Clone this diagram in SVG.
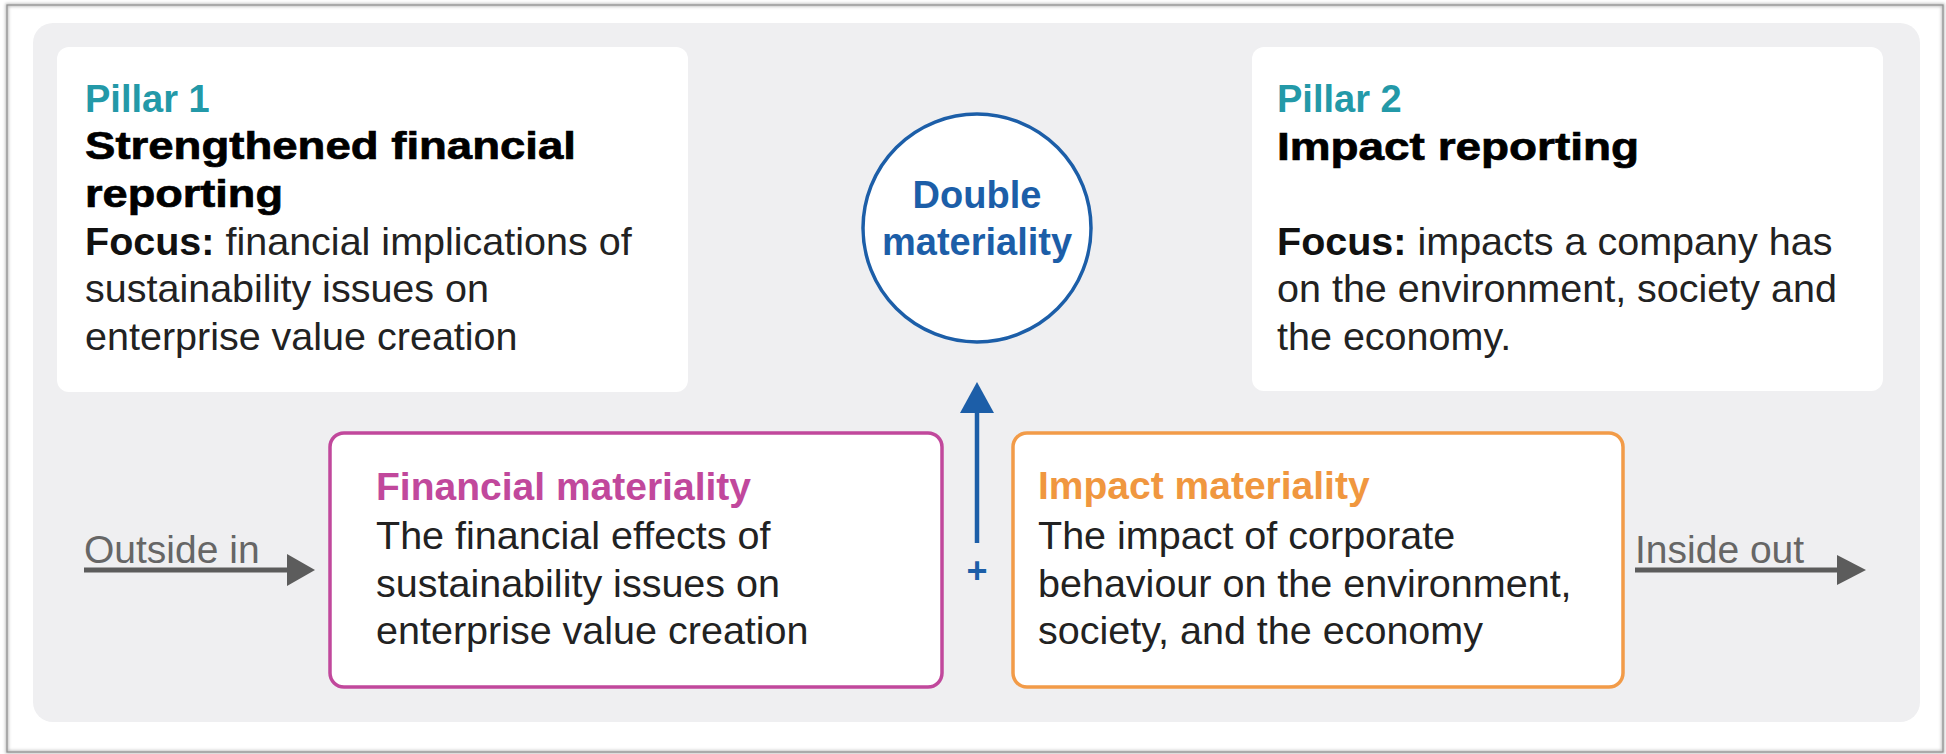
<svg xmlns="http://www.w3.org/2000/svg" width="1946" height="754" viewBox="0 0 1946 754">
  <defs>
    <style>
      text { font-family: "Liberation Sans", Arial, sans-serif; }
      .body { font-size: 39.5px; fill: #222; }
      .b { font-weight: bold; fill: #111; }
      .hdr { font-size: 39px; font-weight: bold; fill: #000; stroke: #000; stroke-width: 0.7; }
      .pillar { font-size: 38px; font-weight: bold; fill: #2399a8; }
      .card { fill: #ffffff; }
      .dir { font-size: 39px; fill: #666; }
    </style>
    <filter id="sh" x="-5%" y="-5%" width="110%" height="110%">
      <feGaussianBlur stdDeviation="1.5"/>
    </filter>
  </defs>

  <rect x="0" y="0" width="1946" height="754" fill="#ffffff"/>
  <!-- outer frame -->
  <rect x="7" y="5" width="1936" height="747" fill="none" stroke="#b8b8b8" stroke-width="3" filter="url(#sh)"/>
  <rect x="7" y="5" width="1936" height="747" fill="none" stroke="#8f8f8f" stroke-width="1.2"/>

  <!-- gray panel -->
  <rect id="panel" x="33" y="23" width="1887" height="699" rx="20" fill="#efeff1"/>

  <g id="pillar1">
    <rect class="card" x="57" y="47" width="631" height="345" rx="12"/>
    <text class="pillar" x="85" y="112">Pillar 1</text>
    <text class="hdr" x="85" y="159" textLength="491" lengthAdjust="spacingAndGlyphs">Strengthened financial</text>
    <text class="hdr" x="85" y="207" textLength="198" lengthAdjust="spacingAndGlyphs">reporting</text>
    <text class="body" x="85" y="255"><tspan class="b">Focus:</tspan> financial implications of</text>
    <text class="body" x="85" y="302">sustainability issues on</text>
    <text class="body" x="85" y="350">enterprise value creation</text>
  </g>

  <g id="pillar2">
    <rect class="card" x="1252" y="47" width="631" height="344" rx="12"/>
    <text class="pillar" x="1277" y="112">Pillar 2</text>
    <text class="hdr" x="1277" y="160" textLength="362" lengthAdjust="spacingAndGlyphs">Impact reporting</text>
    <text class="body" x="1277" y="255"><tspan class="b">Focus:</tspan> impacts a company has</text>
    <text class="body" x="1277" y="302">on the environment, society and</text>
    <text class="body" x="1277" y="350">the economy.</text>
  </g>

  <g id="double-materiality">
    <circle cx="977" cy="228" r="114" fill="#ffffff" stroke="#1c5ea8" stroke-width="3.5"/>
    <text x="977" y="208" text-anchor="middle" font-size="38" font-weight="bold" fill="#1c5ea8">Double</text>
    <text x="977" y="255" text-anchor="middle" font-size="38" font-weight="bold" fill="#1c5ea8">materiality</text>
  </g>

  <g id="financial-materiality">
    <rect x="330" y="433" width="612" height="254" rx="14" fill="#ffffff" stroke="#c1489c" stroke-width="3.5"/>
    <text x="376" y="500" font-size="39" font-weight="bold" fill="#c1489c">Financial materiality</text>
    <text class="body" x="376" y="549">The financial effects of</text>
    <text class="body" x="376" y="597">sustainability issues on</text>
    <text class="body" x="376" y="644">enterprise value creation</text>
  </g>

  <g id="impact-materiality">
    <rect x="1013" y="433" width="610" height="254" rx="14" fill="#ffffff" stroke="#f29b48" stroke-width="3.5"/>
    <text x="1038" y="499" font-size="39" font-weight="bold" fill="#f0973f">Impact materiality</text>
    <text class="body" x="1038" y="549">The impact of corporate</text>
    <text class="body" x="1038" y="597">behaviour on the environment,</text>
    <text class="body" x="1038" y="644">society, and the economy</text>
  </g>

  <g id="plus">
    <text x="977" y="583" text-anchor="middle" font-size="36" font-weight="bold" fill="#1c5ea8">+</text>
  </g>

  <g id="connectors">
    <!-- up arrow to double materiality -->
    <line x1="977" y1="543" x2="977" y2="408" stroke="#1c5ea8" stroke-width="4.5"/>
    <polygon points="977,382 960,413 994,413" fill="#1c5ea8"/>

    <!-- Outside in -->
    <text class="dir" x="84" y="563">Outside in</text>
    <line x1="84" y1="570" x2="290" y2="570" stroke="#5c5c5c" stroke-width="5"/>
    <polygon points="315,570 287,554 287,586" fill="#5c5c5c"/>

    <!-- Inside out -->
    <text class="dir" x="1635" y="563">Inside out</text>
    <line x1="1635" y1="570" x2="1840" y2="570" stroke="#5c5c5c" stroke-width="5"/>
    <polygon points="1866,570 1837,555 1837,585" fill="#5c5c5c"/>
  </g>
</svg>
